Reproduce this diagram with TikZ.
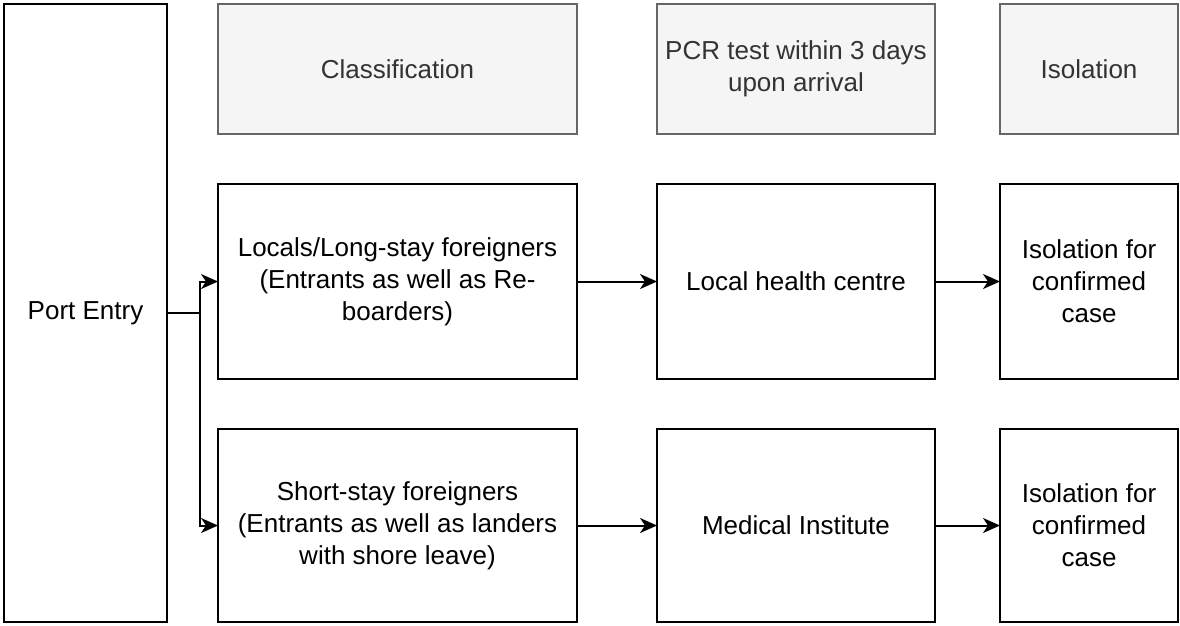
\documentclass[tikz,border=0pt]{standalone}
\usepackage{fontspec}
\setmainfont{Liberation Sans}
\usetikzlibrary{arrows.meta}
\definecolor{hdrfill}{HTML}{F5F5F5}
\definecolor{hdrline}{HTML}{666666}
\definecolor{hdrtext}{HTML}{333333}
\begin{document}
\begin{tikzpicture}[x=1pt,y=-1pt,
  box/.style={draw=black,line width=2pt,inner sep=0pt,outer sep=0pt,align=center,
    font=\fontsize{26}{32}\selectfont},
  hdr/.style={box,draw=hdrline,fill=hdrfill,text=hdrtext},
  flow/.style={line width=2pt,-{Stealth[length=17pt,width=15pt,inset=5pt]}}]
\useasboundingbox (0,0) rectangle (1180,625);

% left column
\node[box,minimum width=163pt,minimum height=618pt] (port) at (85.5,313) {Port Entry};

% headers
\node[hdr,minimum width=359pt,minimum height=130pt] (hclass) at (397.5,69) {Classification};
\node[hdr,minimum width=278pt,minimum height=130pt] (hpcr) at (796,69) {PCR test within 3 days\\upon arrival};
\node[hdr,minimum width=178pt,minimum height=130pt] (hiso) at (1089,69) {Isolation};

% first row
\node[box,minimum width=359pt,minimum height=195pt] (local) at (397.5,281.5) {Locals/Long-stay foreigners\\(Entrants as well as Re-\\boarders)};
\node[box,minimum width=278pt,minimum height=195pt] (centre) at (796,281.5) {Local health centre};
\node[box,minimum width=178pt,minimum height=195pt] (iso1) at (1089,281.5) {Isolation for\\confirmed\\case};

% second row
\node[box,minimum width=359pt,minimum height=193pt] (short) at (397.5,525.5) {Short-stay foreigners\\(Entrants as well as landers\\with shore leave)};
\node[box,minimum width=278pt,minimum height=193pt] (inst) at (796,525.5) {Medical Institute};
\node[box,minimum width=178pt,minimum height=193pt] (iso2) at (1089,525.5) {Isolation for\\confirmed\\case};

% connectors
\coordinate (split) at (200,313);
\draw[line width=2pt] (port.east) -- (split);
\draw[flow] (split) |- (local.west);
\draw[flow] (split) |- (short.west);
\draw[flow] (local) -- (centre);
\draw[flow] (centre) -- (iso1);
\draw[flow] (short) -- (inst);
\draw[flow] (inst) -- (iso2);
\end{tikzpicture}
\end{document}
